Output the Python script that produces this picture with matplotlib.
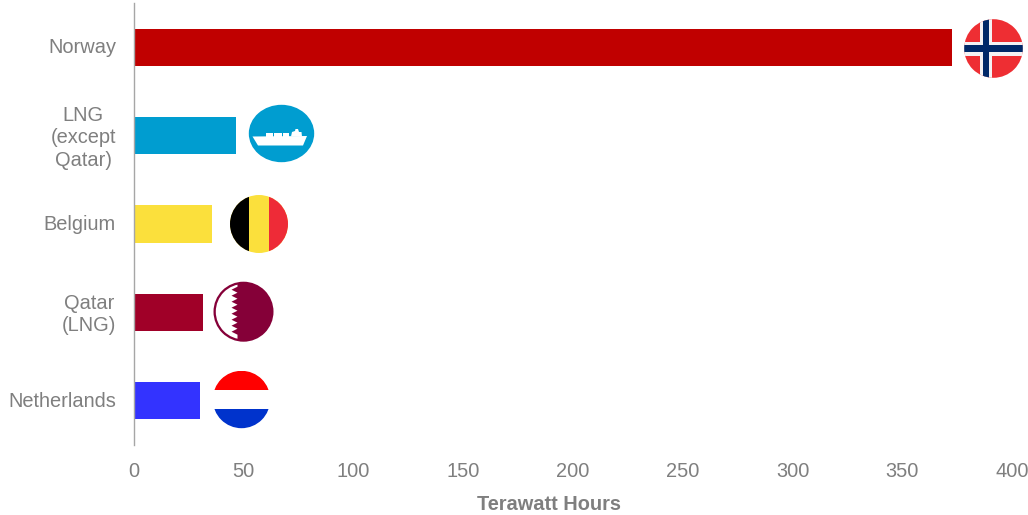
# -*- coding: utf-8 -*-
import matplotlib
matplotlib.use("Agg")
import matplotlib.pyplot as plt
from matplotlib.patches import Circle, Ellipse, Polygon, Rectangle
from matplotlib.transforms import ScaledTranslation

sources = ["Norway", "LNG\n(except\nQatar)", "Belgium", "Qatar\n(LNG)", "Netherlands"]
terawatt_hours = [372.8, 46.3, 35.5, 31.6, 30.0]
bar_colors = ["#C00000", "#009DD0", "#FBE03C", "#A00028", "#3333FF"]
x_ticks = [0, 50, 100, 150, 200, 250, 300, 350, 400]

GREY = "#7F7F7F"
W, H = 1028, 515

plt.rcParams["font.family"] = ["Liberation Sans", "DejaVu Sans"]

fig = plt.figure(figsize=(W / 100, H / 100), dpi=100)
fig.patch.set_facecolor("white")

ax = fig.add_axes([134 / W, 1 - 445 / H, (1012 - 134) / W, (445 - 3) / H])
positions = list(range(len(sources)))
ax.barh(positions, terawatt_hours, height=0.42, color=bar_colors)
ax.set_xlim(0, 400)
ax.set_ylim(len(sources) - 0.5, -0.5)
ax.set_xticks(x_ticks)
ax.set_yticks(positions)
ax.set_yticklabels(sources, multialignment="center", linespacing=1.22)
ax.tick_params(axis="x", length=0, pad=12, labelsize=14.4, labelcolor=GREY)
ax.tick_params(axis="y", length=0, pad=13, labelsize=14.4, labelcolor=GREY)
# nudge the category names up a little
lift = ScaledTranslation(0, 1.5 / 100, fig.dpi_scale_trans)
for label in ax.get_yticklabels():
    label.set_transform(label.get_transform() + lift)
for side in ["top", "right", "bottom"]:
    ax.spines[side].set_visible(False)
ax.spines["left"].set_color("#A6A6A6")
ax.spines["left"].set_linewidth(1.0)
ax.set_xlabel("Terawatt Hours", fontsize=14.4, fontweight="bold", color=GREY)
ax.xaxis.set_label_coords((549 - 134) / 878, -0.114)

# icons sit on an overlay measured in figure pixels
ov = fig.add_axes([0, 0, 1, 1])
ov.set_xlim(0, W)
ov.set_ylim(H, 0)
ov.axis("off")


def clipped(patch, clip):
    ov.add_patch(patch)
    patch.set_clip_path(clip)


def norway(cx, cy, r):
    disc = Circle((cx, cy), r, fc="#EE2E33", ec="none")
    ov.add_patch(disc)
    cross_x = cx - 7.5
    clipped(Rectangle((cx - r, cy - 7), 2 * r, 14, fc="#F4F2F4", ec="none"), disc)
    clipped(Rectangle((cross_x - 6, cy - r), 11.5, 2 * r, fc="#F4F2F4", ec="none"), disc)
    clipped(Rectangle((cx - r, cy - 3.9), 2 * r, 7.8, fc="#002868", ec="none"), disc)
    clipped(Rectangle((cross_x - 3, cy - r), 6, 2 * r, fc="#002868", ec="none"), disc)


def ship(cx, cy, rx, ry):
    ov.add_patch(Ellipse((cx, cy), 2 * rx, 2 * ry, fc="#009DD0", ec="none"))
    hull = [(252.5, 136.5), (307, 136), (303, 145.5), (258, 145.5)]
    ov.add_patch(Polygon(hull, fc="white", ec="none"))
    for x0, x1 in [(266, 272.5), (274, 281.5), (283, 289)]:
        ov.add_patch(Rectangle((x0, 132.5), x1 - x0, 4, fc="white", ec="none"))
    bridge = [(291, 136.5), (292, 132), (295, 131), (295.5, 129), (298, 129),
              (299, 132), (301.5, 132), (302, 136.5)]
    ov.add_patch(Polygon(bridge, fc="white", ec="none"))


def belgium(cx, cy, r):
    disc = Circle((cx, cy), r, fc="#FBE03C", ec="none")
    ov.add_patch(disc)
    clipped(Rectangle((cx - r, cy - r), 19.3, 2 * r, fc="black", ec="none"), disc)
    clipped(Rectangle((cx + 9.7, cy - r), r, 2 * r, fc="#EE2B37", ec="none"), disc)


def qatar(cx, cy, r):
    ov.add_patch(Circle((cx, cy), r, fc="#850038", ec="none"))
    inner = Circle((cx, cy), r - 2.3, fc="none", ec="none")
    ov.add_patch(inner)
    # serrated hoist edge, eight points down the flag
    edge = []
    top, bottom = cy - r, cy + r
    step = (bottom - top - 12) / 8
    for i in range(8):
        edge.append((cx - 6, top + 5 + i * step))
        edge.append((cx - 12, top + 5 + (i + 0.5) * step))
    edge.append((cx - 6, bottom - 7))
    white = [(cx - r, top), (cx - 6, top)] + edge + [(cx - 6, bottom), (cx - r, bottom)]
    clipped(Polygon(white, fc="white", ec="none"), inner)


def netherlands(cx, cy, r):
    disc = Circle((cx, cy), r, fc="white", ec="none")
    ov.add_patch(disc)
    clipped(Rectangle((cx - r, cy - r), 2 * r, r - 9.5, fc="#FF0000", ec="none"), disc)
    clipped(Rectangle((cx - r, cy + 9.8), 2 * r, r, fc="#0033CC", ec="none"), disc)


norway(993.5, 48.5, 29.3)
ship(281.5, 133.5, 32.7, 28.7)
belgium(259, 224, 29)
qatar(243.5, 311.7, 30)
netherlands(241.5, 399.5, 28.7)

fig.savefig("out.png", dpi=100)
